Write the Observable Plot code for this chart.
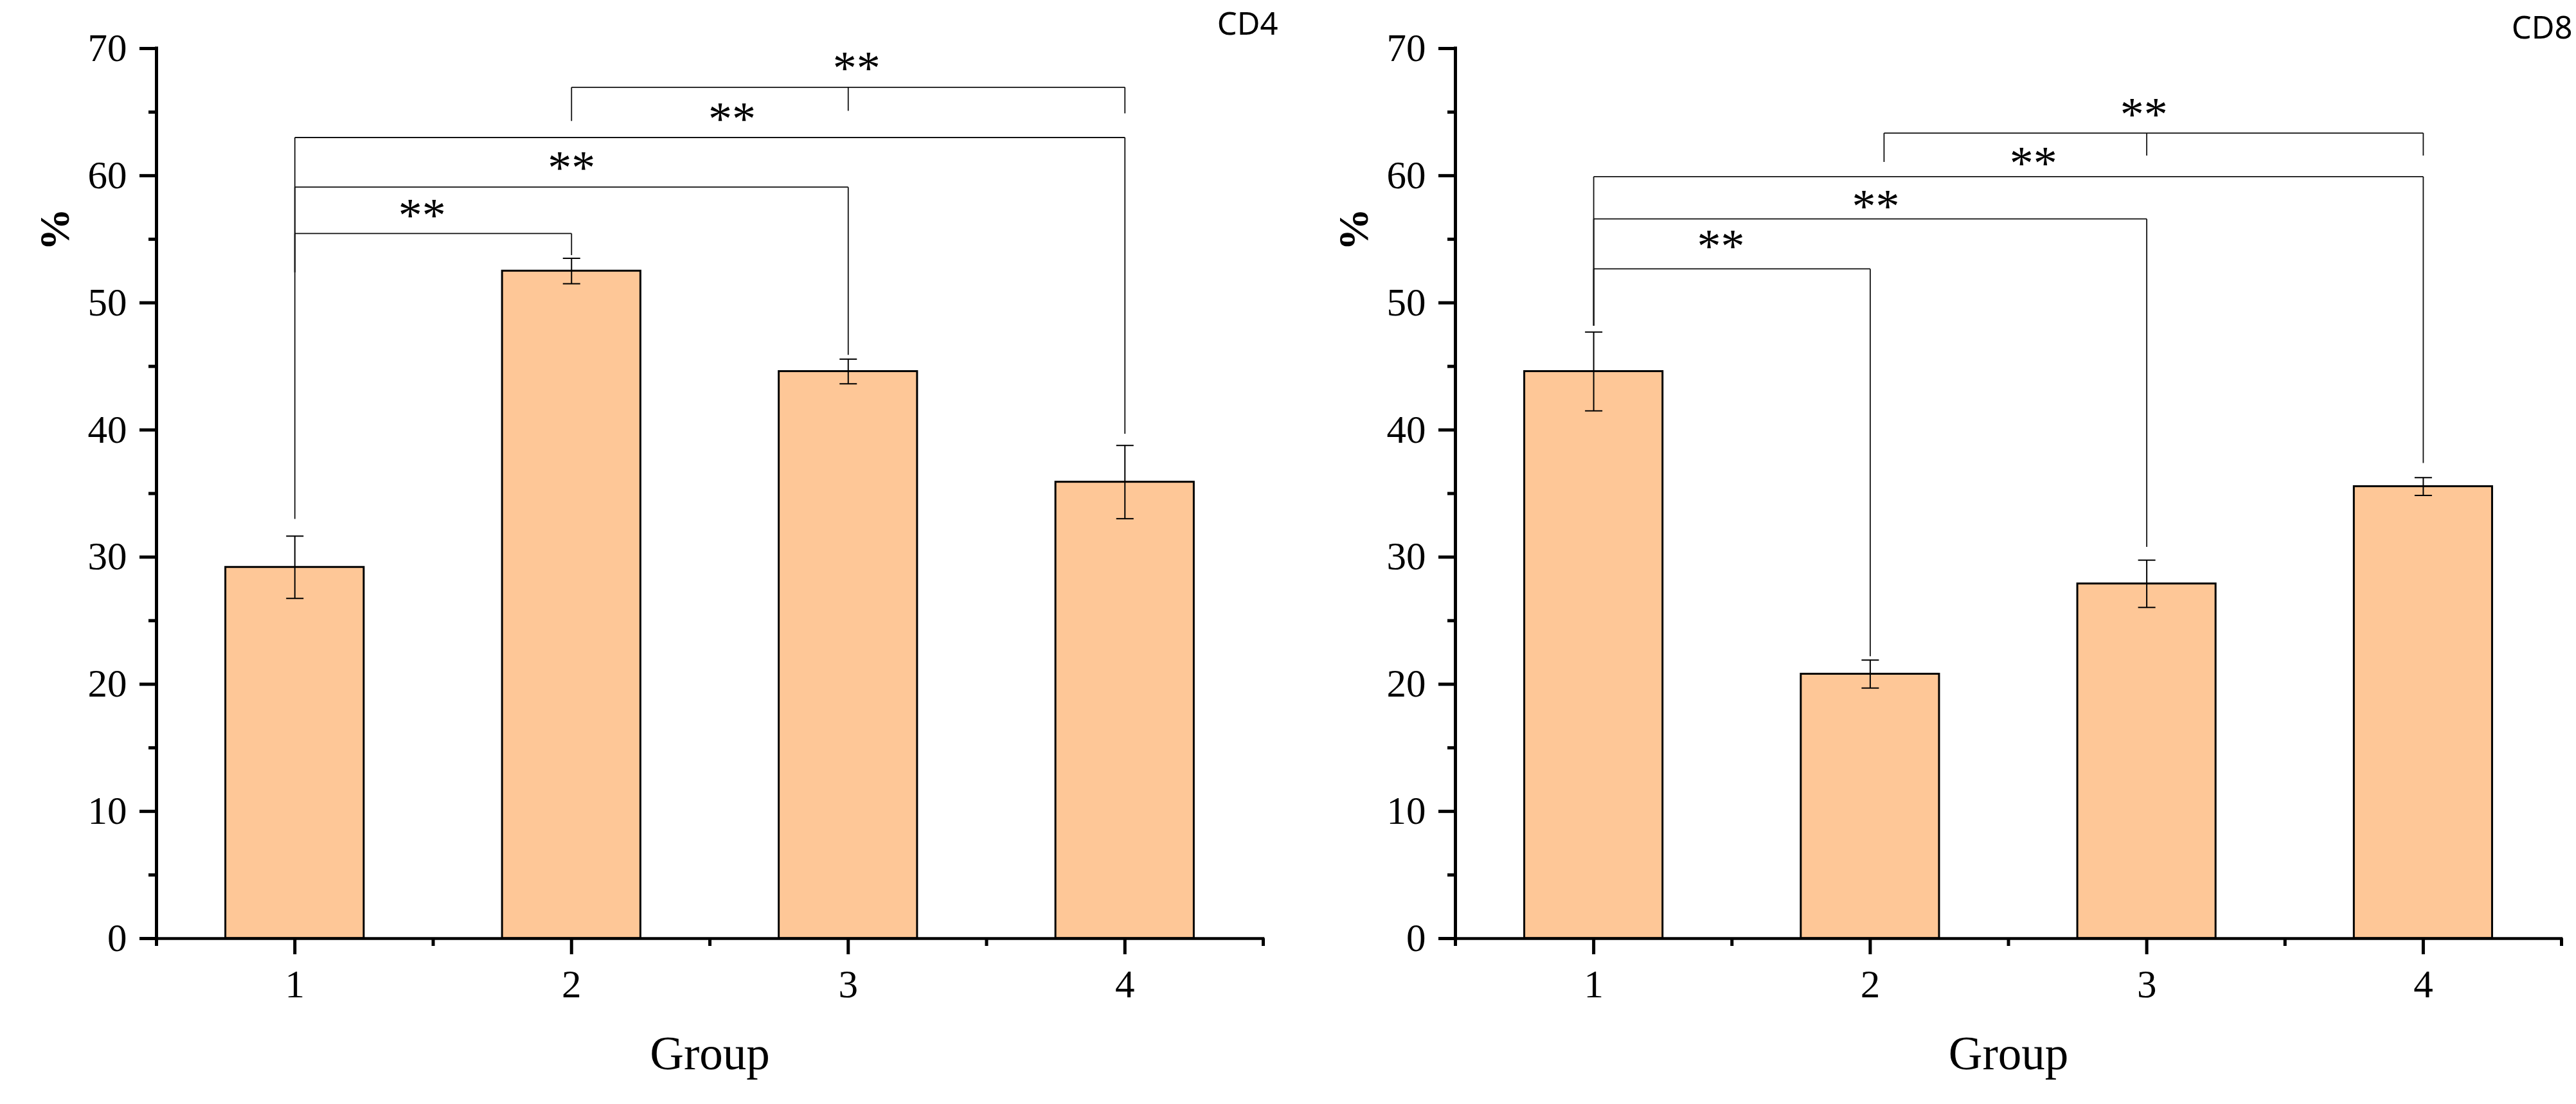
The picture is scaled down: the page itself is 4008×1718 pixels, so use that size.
<!DOCTYPE html>
<html><head><meta charset="utf-8">
<script src="https://cdn.jsdelivr.net/npm/d3@7"></script>
<script src="https://cdn.jsdelivr.net/npm/@observablehq/plot@0.6"></script>
<style>html,body{margin:0;padding:0;background:#fff;} #wrap{display:flex;width:4008px;height:1718px;}</style>
</head><body><div id="wrap"></div>
<script>
// ---- data ----
const groups = [1, 2, 3, 4];
const cd4Mean = [29.2, 52.5, 44.6, 35.9];
const cd4Err  = [2.45, 1.0, 0.97, 2.88];
const cd8Mean = [44.6, 20.8, 27.9, 35.55];
const cd8Err  = [3.1, 1.1, 1.86, 0.7];

// significance brackets (values in data units)
const cd4Brackets = [
  {from: 1, to: 2, y: 55.45, endFrom: 52.4, endTo: 53.75, starX: 1.46, starY: 57.35, label: "**"},
  {from: 1, to: 3, y: 59.1,  endFrom: 52.4, endTo: 45.9,  starX: 2.0,  starY: 61.1,  label: "**"},
  {from: 1, to: 4, y: 63.0,  endFrom: 33.0, endTo: 39.7,  starX: 2.58, starY: 64.96, label: "**"},
  {from: 2, to: 4, y: 66.95, endFrom: 64.3, endTo: 64.9, mid: 3, endMid: 65.1, starX: 3.03, starY: 68.95, label: "**"}
];
const cd8Brackets = [
  {from: 1, to: 2, y: 52.67, endFrom: 48.2, endTo: 22.2, starX: 1.46, starY: 54.94, label: "**"},
  {from: 1, to: 3, y: 56.6,  endFrom: 48.2, endTo: 30.8, starX: 2.02, starY: 58.09, label: "**"},
  {from: 1, to: 4, y: 59.92, endFrom: 48.2, endTo: 37.4, starX: 2.59, starY: 61.47, label: "**"},
  {from: 2.05, to: 4, y: 63.35, endFrom: 61.08, endTo: 61.58, mid: 3, endMid: 61.58, starX: 2.99, starY: 65.29, label: "**"}
];

const yTicks = [0, 10, 20, 30, 40, 50, 60, 70];
const yMinorTicks = [5, 15, 25, 35, 45, 55, 65];
const xTicks = [1, 2, 3, 4];
const xMinorTicks = [0.5, 1.5, 2.5, 3.5, 4.5];
const xDomain = [0.5, 4.5];
const yDomain = [0, 70];
const yLabel = [{text: "%", y: 54.1}];
const xLabel = ["Group"];

const SERIF = "'Liberation Serif', 'Times New Roman', serif";
const SANS = "'Noto Sans', 'Open Sans', sans-serif";
const barFill = "#FEC797";
const halfBar = 0.25;

const capSymbol = {
  draw(ctx, size) {
    const r = Math.sqrt(size / Math.PI);
    ctx.moveTo(-r, 0);
    ctx.lineTo(r, 0);
  }
};

function panel({mean, err, brackets, title, marginLeft, marginRight, titleDx, titleDy}) {
  const rows = groups.map((g, i) => ({g, mean: mean[i], lo: mean[i] - err[i], hi: mean[i] + err[i]}));
  const segs = [];
  for (const b of brackets) {
    segs.push({x1: b.from, x2: b.to, y1: b.y, y2: b.y});
    segs.push({x1: b.from, x2: b.from, y1: b.y, y2: b.endFrom});
    segs.push({x1: b.to, x2: b.to, y1: b.y, y2: b.endTo});
    if (b.mid != null) segs.push({x1: b.mid, x2: b.mid, y1: b.y, y2: b.endMid});
  }
  return Plot.plot({
    width: 2004,
    height: 1718,
    marginLeft, marginRight,
    marginTop: 75,
    marginBottom: 258,
    style: {fontFamily: SERIF, fontSize: "60px", color: "black", background: "white"},
    x: {domain: xDomain, axis: null},
    y: {domain: yDomain, axis: null},
    marks: [
      Plot.rectY(rows, {x1: d => d.g - halfBar, x2: d => d.g + halfBar, y: "mean", fill: barFill, stroke: "black", strokeWidth: 3}),
      Plot.ruleX(rows, {x: "g", y1: "lo", y2: "hi", stroke: "black", strokeWidth: 2}),
      Plot.dot(rows, {x: "g", y: "hi", r: 13.5, symbol: capSymbol, stroke: "black", strokeWidth: 2, fill: "none"}),
      Plot.dot(rows, {x: "g", y: "lo", r: 13.5, symbol: capSymbol, stroke: "black", strokeWidth: 2, fill: "none"}),
      Plot.link(segs, {x1: "x1", y1: "y1", x2: "x2", y2: "y2", stroke: "#111", strokeWidth: 1.8}),
      Plot.text(brackets, {x: "starX", y: "starY", text: "label", fontSize: 74, fontFamily: SERIF, dy: 11, fill: "black"}),
      Plot.axisY({ticks: yTicks, tickSize: 26, tickPadding: 20, strokeWidth: 5, fontSize: 61, fontFamily: SERIF, tickFormat: d => String(d), label: null}),
      Plot.axisY({ticks: yMinorTicks, tickSize: 12, strokeWidth: 5, tickFormat: () => "", label: null}),
      Plot.axisX({ticks: xTicks, tickSize: 25, tickPadding: 23, strokeWidth: 5, fontSize: 61, fontFamily: SERIF, tickFormat: d => String(d), label: null}),
      Plot.axisX({ticks: xMinorTicks, tickSize: 12, strokeWidth: 5, tickFormat: () => "", label: null}),
      Plot.ruleX([xDomain[0]], {stroke: "black", strokeWidth: 5, strokeLinecap: "square"}),
      Plot.ruleY([yDomain[0]], {stroke: "black", strokeWidth: 4.5, strokeLinecap: "square"}),
      Plot.text(yLabel, {text: "text", y: "y", frameAnchor: "left", dx: -158, rotate: -90, fontSize: 66, fontWeight: "bold", fontFamily: SERIF, fill: "black"}),
      Plot.text(xLabel, {frameAnchor: "bottom", dy: 203, lineAnchor: "bottom", fontSize: 73, fontFamily: SERIF, fill: "black"}),
      Plot.text([title], {frameAnchor: "top-right", textAnchor: "end", lineAnchor: "bottom", dx: titleDx, dy: titleDy, fontSize: 49, fontFamily: SANS, fill: "black"})
    ]
  });
}

const wrap = document.getElementById("wrap");
wrap.appendChild(panel({mean: cd4Mean, err: cd4Err, brackets: cd4Brackets, title: "CD4", marginLeft: 243, marginRight: 39, titleDx: 23, titleDy: -22}));
wrap.appendChild(panel({mean: cd8Mean, err: cd8Err, brackets: cd8Brackets, title: "CD8", marginLeft: 260, marginRight: 23, titleDx: 17, titleDy: -16}));
</script>
</body></html>
